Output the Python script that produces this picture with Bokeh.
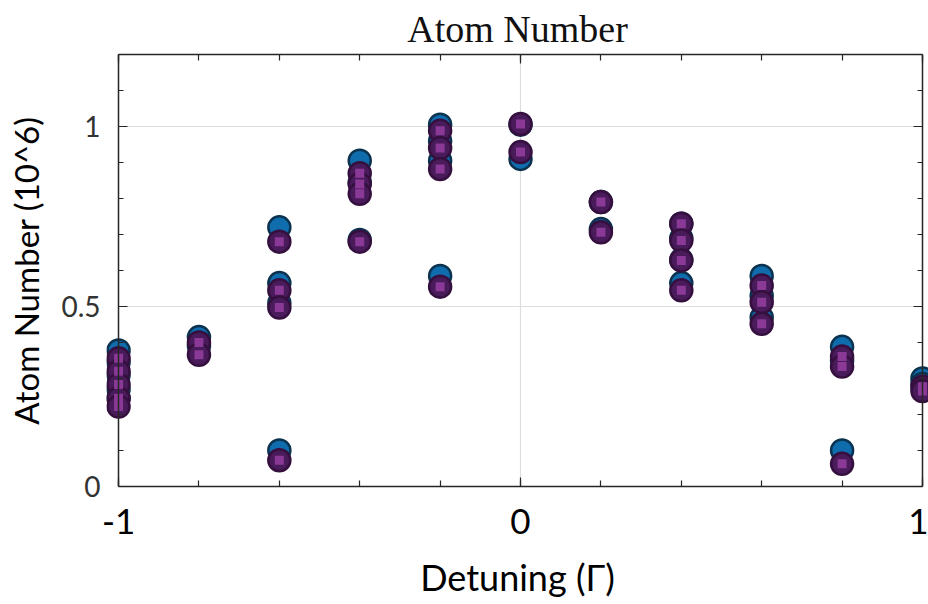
from bokeh.plotting import figure
from bokeh.models import FixedTicker, LinearAxis, Range1d, ColumnDataSource
from bokeh.embed import file_html
from bokeh.resources import INLINE

# Series A (blue circles)
detuning_a = [-1, -1, -1, -1, -1,
              -0.8, -0.8,
              -0.6, -0.6, -0.6, -0.6,
              -0.4, -0.4, -0.4,
              -0.2, -0.2, -0.2, -0.2,
              0, 0,
              0.2, 0.2,
              0.4, 0.4, 0.4, 0.4,
              0.6, 0.6, 0.6,
              0.8, 0.8, 0.8,
              1, 1]
atoms_a = [0.378, 0.345, 0.31, 0.27, 0.245,
           0.415, 0.39,
           0.72, 0.565, 0.51, 0.10,
           0.905, 0.845, 0.685,
           1.005, 0.96, 0.905, 0.585,
           1.005, 0.91,
           0.79, 0.715,
           0.73, 0.69, 0.63, 0.565,
           0.585, 0.53, 0.47,
           0.388, 0.35, 0.10,
           0.30, 0.285]

# Series B (purple)
detuning_b = [-1, -1, -1, -1, -1,
              -0.8, -0.8,
              -0.6, -0.6, -0.6, -0.6,
              -0.4, -0.4, -0.4, -0.4,
              -0.2, -0.2, -0.2, -0.2,
              0, 0,
              0.2, 0.2,
              0.4, 0.4, 0.4, 0.4,
              0.6, 0.6, 0.6,
              0.8, 0.8, 0.8,
              1, 1]
atoms_b = [0.356, 0.32, 0.283, 0.245, 0.222,
           0.40, 0.366,
           0.68, 0.545, 0.497, 0.073,
           0.87, 0.84, 0.813, 0.68,
           0.988, 0.94, 0.882, 0.555,
           1.007, 0.929,
           0.79, 0.706,
           0.73, 0.683, 0.628, 0.545,
           0.558, 0.512, 0.452,
           0.361, 0.333, 0.063,
           0.277, 0.265]

x_major = [-1, 0, 1]
x_major_labels = ["-1", "0", "1"]
x_minor = [-1, -0.8, -0.6, -0.4, -0.2, 0, 0.2, 0.4, 0.6, 0.8, 1]
y_major = [0, 0.5, 1]
y_major_labels = ["0", "0.5", "1"]
y_minor = [0, 0.1, 0.2, 0.3, 0.4, 0.5, 0.6, 0.7, 0.8, 0.9, 1.0, 1.1, 1.2]
x_lo, x_hi = -1, 1
y_lo, y_hi = 0, 1.2

src_a = ColumnDataSource(dict(x=detuning_a, y=atoms_a))
src_b = ColumnDataSource(dict(x=detuning_b, y=atoms_b))

AX = "#262626"

p = figure(width=928, height=604, output_backend="svg", toolbar_location=None,
           x_range=Range1d(-1.03, 1.015), y_range=Range1d(y_lo, y_hi),
           min_border_left=106, min_border_right=0, min_border_top=54, min_border_bottom=118,
           x_axis_label="Detuning (Γ)", y_axis_label="Atom Number (10^6)")
p.background_fill_color = "white"
p.border_fill_color = "white"
p.outline_line_color = None

p.title.text = "Atom Number"
p.title.text_font = "Liberation Serif"
p.title.text_font_size = "38px"
p.title.text_font_style = "normal"
p.title.text_color = "#111111"
p.title.align = "center"
p.title.standoff = 10

xt = FixedTicker(ticks=x_major, minor_ticks=x_minor)
yt = FixedTicker(ticks=y_major, minor_ticks=y_minor)

def style_axis(ax, minor_len, tin=9):
    ax.major_tick_in = tin
    ax.major_tick_out = 0
    ax.minor_tick_in = minor_len
    ax.minor_tick_out = 0
    ax.axis_line_color = AX
    ax.axis_line_width = 1.5
    ax.major_tick_line_color = AX
    ax.minor_tick_line_color = AX
    ax.major_tick_line_width = 1.2
    ax.minor_tick_line_width = 1.2

# bottom axis
xa = p.xaxis[0]
xa.ticker = xt
xa.bounds = (x_lo, x_hi)
style_axis(xa, 6)
xa.major_label_overrides = dict(zip(x_major, x_major_labels))
xa.major_label_text_font = "Lato"
xa.major_label_text_font_size = "35px"
xa.major_label_text_color = "black"
xa.major_label_text_line_height = 1.0
xa.major_label_standoff = 22
xa.axis_label_text_font = "Lato"
xa.axis_label_text_font_size = "36px"
xa.axis_label_text_font_style = "normal"
xa.axis_label_text_color = "black"
xa.axis_label_text_line_height = 1.0
xa.axis_label_standoff = 18

# left axis: labels only (line and ticks drawn by the fixed axis at x = -1)
ya = p.yaxis[0]
ya.ticker = yt
ya.axis_line_color = None
ya.major_tick_line_color = None
ya.minor_tick_line_color = None
ya.major_tick_in = 0
ya.major_tick_out = 0
ya.minor_tick_in = 0
ya.minor_tick_out = 0
ya.major_label_overrides = dict(zip(y_major, y_major_labels))
ya.major_label_text_font = "Lato"
ya.major_label_text_font_size = "28px"
ya.major_label_text_color = "#333333"
ya.major_label_standoff = 6
ya.axis_label_text_font = "Lato"
ya.axis_label_text_font_size = "33px"
ya.axis_label_text_font_style = "normal"
ya.axis_label_text_color = "black"
ya.axis_label_standoff = 12

# top axis
top = LinearAxis(ticker=xt, bounds=(x_lo, x_hi), major_label_standoff=0,
                 major_label_overrides={t: "" for t in x_major},
                 major_label_text_font_size="1px")
style_axis(top, 6)
p.add_layout(top, "above")

# right box edge at x = 1
right = LinearAxis(ticker=yt, fixed_location=x_hi, major_label_standoff=0,
                   major_label_overrides={t: "" for t in y_major},
                   major_label_text_font_size="1px")
style_axis(right, 5)
p.add_layout(right, "right")

# left box edge at x = -1, ticks pointing into the box
left_edge = LinearAxis(ticker=yt, fixed_location=x_lo, major_label_standoff=0,
                       major_label_overrides={t: "" for t in y_major},
                       major_label_text_font_size="1px")
style_axis(left_edge, -5, tin=-9)
p.add_layout(left_edge, "right")

p.xgrid.ticker = xt
p.xgrid.grid_line_color = "#dedede"
p.xgrid.grid_line_width = 1.2
p.ygrid.ticker = yt
p.ygrid.grid_line_color = "#dedede"
p.ygrid.grid_line_width = 1.2
try:
    p.ygrid[0].cross_bounds = (x_lo, x_hi)
except Exception:
    p.ygrid.grid_line_color = None
    p.segment(x0=[x_lo] * len(y_major), x1=[x_hi] * len(y_major), y0=y_major, y1=y_major,
              line_color="#dedede", line_width=1.2, level="underlay")

p.scatter("x", "y", source=src_a, marker="circle", size=22, fill_color="#0f6cad",
          line_color="#0b3350", line_width=2.5)
p.scatter("x", "y", source=src_b, marker="circle", size=22, fill_color="#4a1b5b",
          line_color="#35103f", line_width=2.5)
p.scatter("x", "y", source=src_b, marker="square", size=9, fill_color="#8a3a96",
          line_color=None)

open("out.html", "w").write(file_html(p, INLINE))
